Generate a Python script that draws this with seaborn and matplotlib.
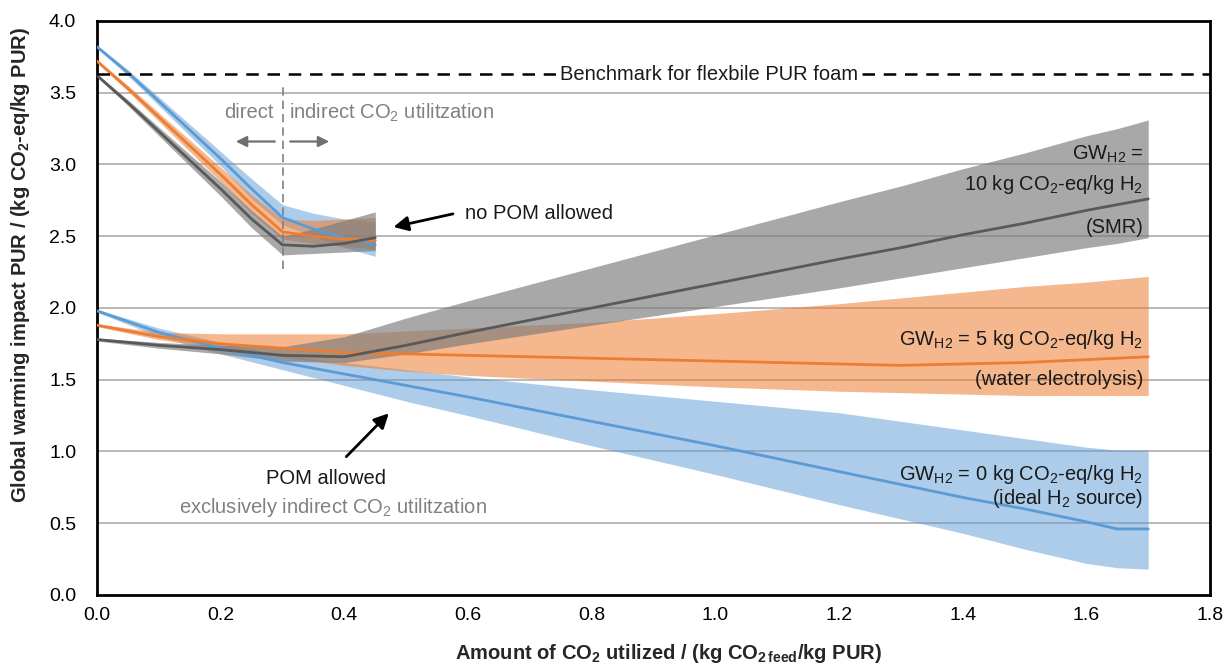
import numpy as np
import pandas as pd
import matplotlib
matplotlib.use("Agg")
import matplotlib.pyplot as plt
import seaborn as sns

# ---------------- data ----------------
x_nopom = [0.0, 0.05, 0.1, 0.15, 0.2, 0.25, 0.3, 0.35, 0.4, 0.45]
blue_nopom = [3.82, 3.64, 3.44, 3.24, 3.04, 2.83, 2.63, 2.55, 2.49, 2.44]
blue_nopom_hi = [3.83, 3.66, 3.47, 3.28, 3.09, 2.90, 2.72, 2.66, 2.62, 2.60]
blue_nopom_lo = [3.81, 3.62, 3.41, 3.20, 2.99, 2.76, 2.58, 2.50, 2.42, 2.36]
orange_nopom = [3.72, 3.53, 3.33, 3.13, 2.93, 2.72, 2.53, 2.50, 2.48, 2.47]
orange_nopom_hi = [3.73, 3.55, 3.36, 3.17, 2.98, 2.79, 2.62, 2.61, 2.62, 2.63]
orange_nopom_lo = [3.71, 3.51, 3.30, 3.09, 2.88, 2.66, 2.48, 2.45, 2.43, 2.41]
gray_nopom = [3.62, 3.43, 3.23, 3.03, 2.83, 2.62, 2.44, 2.43, 2.45, 2.49]
gray_nopom_hi = [3.63, 3.45, 3.26, 3.07, 2.88, 2.68, 2.50, 2.55, 2.61, 2.67]
gray_nopom_lo = [3.61, 3.41, 3.20, 2.99, 2.78, 2.56, 2.37, 2.38, 2.39, 2.40]

x_pom = [0.0, 0.1, 0.2, 0.3, 0.4, 0.5, 0.6, 0.8, 1.0, 1.2, 1.3, 1.4, 1.5, 1.6, 1.65, 1.7]
blue_pom = [1.98, 1.83, 1.72, 1.62, 1.54, 1.46, 1.38, 1.21, 1.04, 0.86, 0.77, 0.68, 0.60, 0.51, 0.46, 0.46]
blue_pom_hi = [1.99, 1.86, 1.76, 1.67, 1.62, 1.57, 1.52, 1.43, 1.35, 1.27, 1.21, 1.15, 1.09, 1.03, 1.01, 1.01]
blue_pom_lo = [1.97, 1.80, 1.68, 1.57, 1.46, 1.35, 1.25, 1.04, 0.84, 0.63, 0.53, 0.43, 0.32, 0.22, 0.19, 0.18]
orange_pom = [1.88, 1.80, 1.75, 1.72, 1.69, 1.68, 1.67, 1.65, 1.63, 1.61, 1.60, 1.61, 1.62, 1.64, 1.65, 1.66]
orange_pom_hi = [1.89, 1.83, 1.82, 1.82, 1.82, 1.84, 1.86, 1.90, 1.96, 2.03, 2.07, 2.11, 2.15, 2.18, 2.20, 2.22]
orange_pom_lo = [1.87, 1.78, 1.72, 1.66, 1.60, 1.56, 1.53, 1.49, 1.45, 1.42, 1.41, 1.40, 1.39, 1.39, 1.39, 1.39]
gray_pom = [1.78, 1.74, 1.71, 1.67, 1.66, 1.74, 1.83, 2.00, 2.17, 2.34, 2.42, 2.51, 2.59, 2.68, 2.72, 2.76]
gray_pom_hi = [1.79, 1.76, 1.74, 1.73, 1.80, 1.93, 2.05, 2.28, 2.51, 2.74, 2.85, 2.97, 3.08, 3.20, 3.25, 3.31]
gray_pom_lo = [1.77, 1.72, 1.68, 1.63, 1.62, 1.68, 1.75, 1.88, 2.01, 2.14, 2.21, 2.28, 2.35, 2.42, 2.45, 2.49]

benchmark = 3.63
x_ticks = [0.0, 0.2, 0.4, 0.6, 0.8, 1.0, 1.2, 1.4, 1.6, 1.8]
y_ticks = [0.0, 0.5, 1.0, 1.5, 2.0, 2.5, 3.0, 3.5, 4.0]

# ---------------- style ----------------
sns.set_theme(style="white")
plt.rcParams['font.family'] = ['Liberation Sans', 'DejaVu Sans']
plt.rcParams['mathtext.fontset'] = 'custom'
plt.rcParams['mathtext.rm'] = 'Liberation Sans'
plt.rcParams['mathtext.it'] = 'Liberation Sans:italic'
plt.rcParams['mathtext.bf'] = 'Liberation Sans:bold'

C_BLUE = '#5b9bd5'
C_ORANGE = '#ed7d31'
C_GRAY = '#595959'
B_BLUE = '#5b9bd5'
B_ORANGE = '#ed7d31'
B_GRAY = '#7a7a7a'
TXT_GRAY = '#808080'
FS = 14.5

fig = plt.figure(figsize=(12.25, 6.68), dpi=100)
ax = fig.add_axes([0.0792, 0.1093, 0.9086, 0.8593])

# grid
for yv in y_ticks[1:-1]:
    ax.axhline(yv, color='#a6a6a6', lw=1.1, zorder=0)

# bands
bands = [
    (x_pom, blue_pom_lo, blue_pom_hi, B_BLUE, 0.5),
    (x_pom, orange_pom_lo, orange_pom_hi, B_ORANGE, 0.55),
    (x_pom, gray_pom_lo, gray_pom_hi, B_GRAY, 0.65),
    (x_nopom, blue_nopom_lo, blue_nopom_hi, B_BLUE, 0.5),
    (x_nopom, orange_nopom_lo, orange_nopom_hi, B_ORANGE, 0.55),
    (x_nopom, gray_nopom_lo, gray_nopom_hi, B_GRAY, 0.65),
]
for xs, lo, hi, c, a in bands:
    ax.fill_between(xs, lo, hi, color=c, alpha=a, lw=0, zorder=1)

# lines
df_pom = pd.DataFrame({
    'x': x_pom * 3,
    'y': blue_pom + orange_pom + gray_pom,
    's': ['blue'] * len(x_pom) + ['orange'] * len(x_pom) + ['gray'] * len(x_pom),
})
df_nopom = pd.DataFrame({
    'x': x_nopom * 3,
    'y': blue_nopom + orange_nopom + gray_nopom,
    's': ['blue'] * len(x_nopom) + ['orange'] * len(x_nopom) + ['gray'] * len(x_nopom),
})
pal = {'blue': C_BLUE, 'orange': C_ORANGE, 'gray': C_GRAY}
for df in (df_pom, df_nopom):
    sns.lineplot(data=df, x='x', y='y', hue='s', palette=pal, lw=2,
                 legend=False, ax=ax, zorder=3, sort=False, estimator=None)

# benchmark
ax.axhline(benchmark, color='black', lw=1.8, ls=(0, (5, 3.5)), zorder=4)
ax.text(0.99, benchmark, 'Benchmark for flexbile PUR foam', ha='center', va='center',
        fontsize=FS, color='#1a1a1a', zorder=5,
        bbox=dict(facecolor='white', edgecolor='none', pad=3))

# direct / indirect divider
ax.plot([0.3, 0.3], [2.27, 3.57], color='#808080', lw=1.2, ls=(0, (5, 3)), zorder=4)
ax.text(0.285, 3.36, 'direct', ha='right', va='center', fontsize=FS, color=TXT_GRAY)
ax.text(0.311, 3.36, r'indirect CO$_2$ utilitzation', ha='left', va='center',
        fontsize=FS, color=TXT_GRAY)
ax.annotate('', xy=(0.22, 3.16), xytext=(0.292, 3.16),
            arrowprops=dict(arrowstyle='-|>', color='#707070', lw=1.6, mutation_scale=16))
ax.annotate('', xy=(0.38, 3.16), xytext=(0.308, 3.16),
            arrowprops=dict(arrowstyle='-|>', color='#707070', lw=1.6, mutation_scale=16))

# no POM allowed
ax.text(0.595, 2.66, 'no POM allowed', ha='left', va='center', fontsize=FS, color='#1a1a1a')
ax.annotate('', xy=(0.475, 2.56), xytext=(0.58, 2.66),
            arrowprops=dict(arrowstyle='-|>', color='black', lw=2, mutation_scale=22))

# POM allowed
ax.text(0.37, 0.81, 'POM allowed', ha='center', va='center', fontsize=FS, color='#1a1a1a')
ax.text(0.382, 0.61, r'exclusively indirect CO$_2$ utilitzation', ha='center', va='center',
        fontsize=FS, color=TXT_GRAY)
ax.annotate('', xy=(0.475, 1.28), xytext=(0.4, 0.95),
            arrowprops=dict(arrowstyle='-|>', color='black', lw=2, mutation_scale=22))

# right labels
xr = 1.692
lab_kw = dict(ha='right', va='center', fontsize=FS, color='#1a1a1a', zorder=6)
ax.text(xr, 3.07, r'GW$_{\mathregular{H2}}$ =', **lab_kw)
ax.text(xr, 2.86, r'10 kg CO$_2$-eq/kg H$_2$', **lab_kw)
ax.text(xr, 2.56, '(SMR)', **lab_kw)
ax.text(xr, 1.78, r'GW$_{\mathregular{H2}}$ = 5 kg CO$_2$-eq/kg H$_2$', **lab_kw)
ax.text(xr, 1.50, '(water electrolysis)', **lab_kw)
ax.text(xr, 0.84, r'GW$_{\mathregular{H2}}$ = 0 kg CO$_2$-eq/kg H$_2$', **lab_kw)
ax.text(xr, 0.67, r'(ideal H$_2$ source)', **lab_kw)

# axes
ax.set_xlim(0, 1.8)
ax.set_ylim(0, 4.0)
ax.set_xticks(x_ticks)
ax.set_xticklabels([f'{v:.1f}' for v in x_ticks], fontsize=14)
ax.set_yticks(y_ticks)
ax.set_yticklabels([f'{v:.1f}' for v in y_ticks], fontsize=14)
ax.tick_params(axis='x', direction='in', length=7, width=1.5, pad=9, colors='black')
ax.tick_params(axis='y', length=0, pad=15, colors='black')
for sp in ax.spines.values():
    sp.set_color('black')
    sp.set_linewidth(2)
ax.set_xlabel(r'Amount of CO$_\mathbf{2}$ utilized / (kg CO$_\mathbf{2\,feed}$/kg PUR)',
              fontsize=14.5, fontweight='bold')
ax.set_ylabel(r'Global warming impact PUR / (kg CO$_\mathbf{2}$-eq/kg PUR)',
              fontsize=14.5, fontweight='bold')
ax.xaxis.set_label_coords(0.513, -0.082)
ax.yaxis.set_label_coords(-0.058, 0.575)

fig.savefig('out.png', dpi=100)
